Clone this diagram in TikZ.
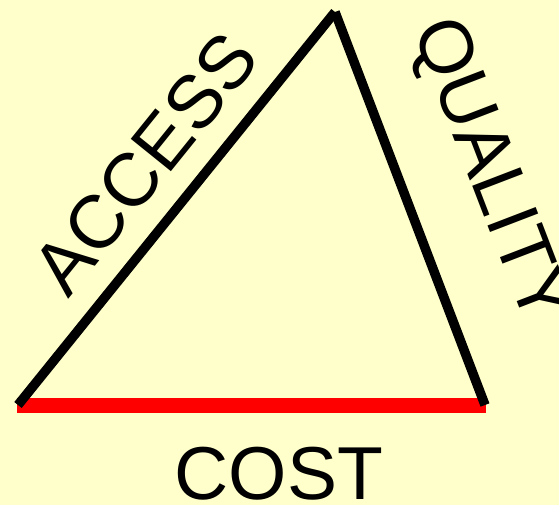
\documentclass[tikz,border=0pt]{standalone}
\usepackage{fontspec}
\setmainfont{Liberation Sans}
\definecolor{bgyellow}{HTML}{FFFFCC}
\begin{document}
\begin{tikzpicture}[x=1pt,y=-1pt,
  edge/.style={line width=9.5pt,line cap=butt,black},
  base/.style={line width=15pt,line cap=butt,red},
  lbl/.style={inner sep=0pt,font=\fontsize{75}{90}\selectfont}]
\fill[bgyellow] (0,0) rectangle (559,505);
\useasboundingbox (0,0) rectangle (559,505);
\coordinate (bl) at (18,405);
\coordinate (top) at (335,12);
\coordinate (br) at (485,405);
\coordinate (rl) at (17,405);
\coordinate (rr) at (486,405);
\draw[base] (rl) -- (rr);
\draw[edge] (bl) -- (top);
\draw[edge] (top) -- (br);
\node[lbl,rotate=51.1] (access) at (145,163) {ACCESS};
\node[lbl,rotate=-69] (quality) at (488,172) {QUALITY};
\node[lbl,anchor=base] (cost) at (279,499) {COST};
\end{tikzpicture}
\end{document}
